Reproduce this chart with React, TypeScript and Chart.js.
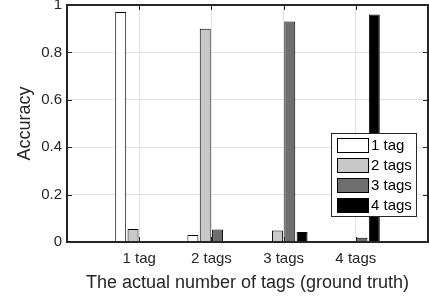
import React, { useEffect, useRef } from "react";
import { Chart, registerables } from "chart.js";

Chart.register(...registerables);

// x categories (first and last are empty padding slots so the axis spans 0..5)
const categories = ["", "1 tag", "2 tags", "3 tags", "4 tags", ""];
const seriesNames = ["1 tag", "2 tags", "3 tags", "4 tags"];
const seriesColors = ["#ffffff", "#c8c8c8", "#6e6e6e", "#000000"];

// accuracy per predicted-tag series, for ground truth 1..4 tags
const predicted1 = [0.97, 0.03, 0.002, 0.002];
const predicted2 = [0.055, 0.9, 0.048, 0.003];
const predicted3 = [0.003, 0.053, 0.93, 0.018];
const predicted4 = [0.003, 0.003, 0.042, 0.96];

const yTicks = [0, 0.2, 0.4, 0.6, 0.8, 1];
const yTickLabels = ["0", "0.2", "0.4", "0.6", "0.8", "1"];

const FONT = "'Liberation Sans', Arial, Helvetica, sans-serif";
const AXIS_COLOR = "#262626";

const boxPlugin = {
  id: "matlabBox",
  afterDatasetsDraw(chart: any) {
    const { ctx, chartArea } = chart;
    const { left, right, top, bottom } = chartArea;
    const xs = chart.scales.x;
    const ys = chart.scales.y;
    ctx.save();
    ctx.strokeStyle = AXIS_COLOR;
    ctx.lineWidth = 1;
    const tl = 5;
    ctx.beginPath();
    for (let i = 1; i < categories.length - 1; i++) {
      const px = Math.round(xs.getPixelForValue(i)) + 0.5;
      ctx.moveTo(px, bottom);
      ctx.lineTo(px, bottom - tl);
      ctx.moveTo(px, top);
      ctx.lineTo(px, top + tl);
    }
    for (const v of yTicks) {
      const py = Math.round(ys.getPixelForValue(v)) + 0.5;
      ctx.moveTo(left, py);
      ctx.lineTo(left + tl, py);
      ctx.moveTo(right, py);
      ctx.lineTo(right - tl, py);
    }
    ctx.stroke();
    ctx.lineWidth = 2;
    ctx.beginPath();
    ctx.rect(left, top, right - left, bottom - top);
    ctx.stroke();
    ctx.restore();
  },
  afterDraw(chart: any) {
    const { ctx, chartArea } = chart;
    const bx = chartArea.right - 97;
    const by = chartArea.top + 128;
    const bw = 86;
    const bh = 84;
    ctx.save();
    ctx.fillStyle = "#ffffff";
    ctx.fillRect(bx, by, bw, bh);
    ctx.strokeStyle = AXIS_COLOR;
    ctx.lineWidth = 1;
    ctx.strokeRect(bx + 0.5, by + 0.5, bw - 1, bh - 1);
    ctx.font = `15px ${FONT}`;
    ctx.textBaseline = "middle";
    ctx.textAlign = "left";
    chart.data.datasets.forEach((ds: any, i: number) => {
      const sy = by + 5 + i * 20;
      ctx.fillStyle = ds.backgroundColor;
      ctx.fillRect(bx + 6, sy, 32, 15);
      ctx.strokeStyle = "#000000";
      ctx.strokeRect(bx + 6.5, sy + 0.5, 31, 14);
      ctx.fillStyle = "#000000";
      ctx.fillText(ds.label, bx + 40, sy + 8);
    });
    ctx.restore();
  },
};

const pad = (arr: number[]) => [null, ...arr, null];

export default function App() {
  const ref = useRef<HTMLCanvasElement>(null);
  useEffect(() => {
    document.body.style.margin = "0";
    document.body.style.overflow = "hidden";
    const series = [predicted1, predicted2, predicted3, predicted4];
    const chart = new Chart(ref.current as HTMLCanvasElement, {
      type: "bar",
      data: {
        labels: categories,
        datasets: series.map((s, i) => ({
          label: seriesNames[i],
          data: pad(s) as any,
          backgroundColor: seriesColors[i],
          borderColor: "#000000",
          borderWidth: 1,
          categoryPercentage: 0.683,
          barPercentage: 0.89,
        })),
      },
      options: {
        responsive: false,
        animation: false,
        layout: { padding: { top: 5, right: 1, left: 0, bottom: 0 } },
        plugins: { legend: { display: false }, tooltip: { enabled: false } },
        scales: {
          x: {
            offset: false,
            grid: { color: "#e3e3e3", drawTicks: false, offset: false },
            border: { display: false },
            ticks: {
              color: AXIS_COLOR,
              font: { family: FONT, size: 15 },
              padding: 8,
              maxRotation: 0,
              autoSkip: false,
            },
            title: {
              display: true,
              text: "The actual number of tags (ground truth)",
              color: AXIS_COLOR,
              font: { family: FONT, size: 18 },
              padding: { top: 0, bottom: 4 },
            },
            afterFit: (s: any) => {
              s.height = 56;
              s.paddingLeft = 0;
              s.paddingRight = 0;
            },
          },
          y: {
            min: 0,
            max: 1,
            grid: { color: "#e3e3e3", drawTicks: false },
            border: { display: false },
            afterBuildTicks: (s: any) => {
              s.ticks = yTicks.map((v) => ({ value: v }));
            },
            ticks: {
              color: AXIS_COLOR,
              font: { family: FONT, size: 15 },
              padding: 5,
              callback: (_v: any, idx: number) => yTickLabels[idx],
            },
            title: {
              display: true,
              text: "Accuracy",
              color: AXIS_COLOR,
              font: { family: FONT, size: 18 },
              padding: { top: 14, bottom: 0 },
            },
            afterFit: (s: any) => {
              s.width = 67;
              s.paddingTop = 0;
              s.paddingBottom = 0;
            },
          },
        },
      },
      plugins: [boxPlugin],
    });
    return () => chart.destroy();
  }, []);
  return (
    <div style={{ width: 429, height: 298 }}>
      <canvas ref={ref} width={429} height={298} />
    </div>
  );
}
